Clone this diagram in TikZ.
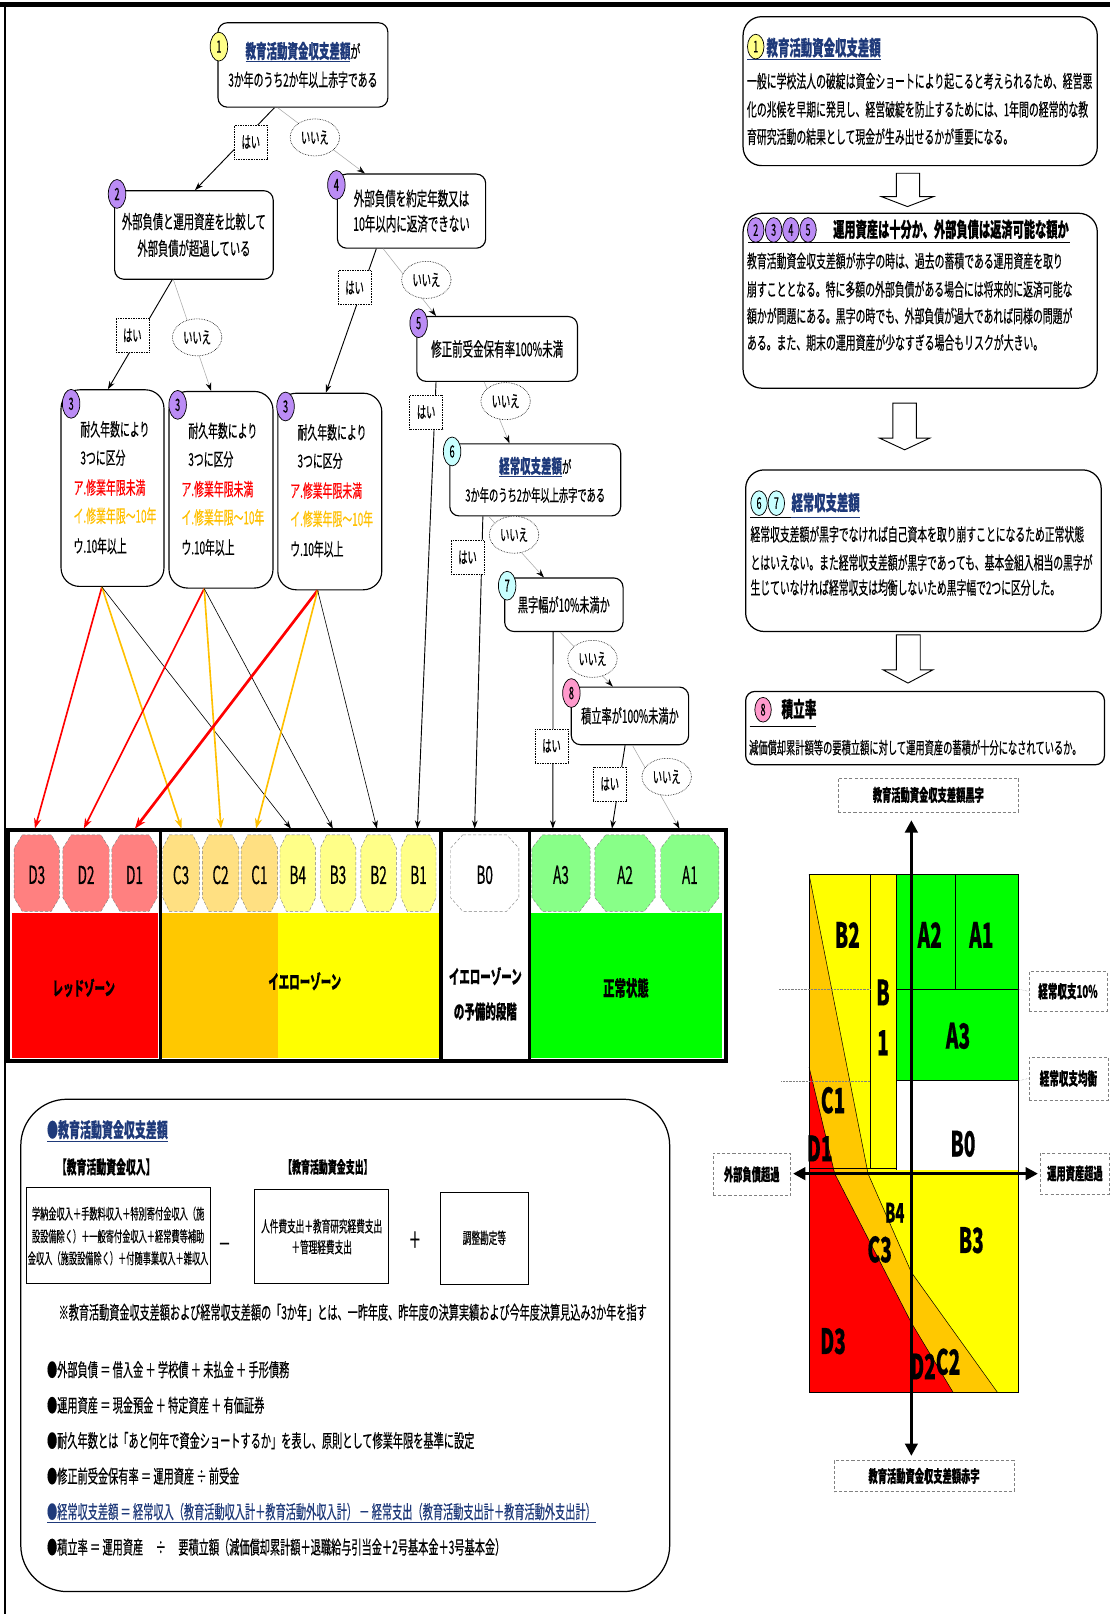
\documentclass[tikz,border=0pt]{standalone}
\usepackage{fontspec}
\setmainfont[FakeStretch=0.55,FakeBold=0.35]{Noto Sans CJK JP}
\usetikzlibrary{arrows.meta,calc,shapes.geometric}
\definecolor{navy}{HTML}{1F3A7A}
\definecolor{bpurple}{HTML}{BB8CF5}
\definecolor{bcyan}{HTML}{C8FFFF}
\definecolor{bpink}{HTML}{FF99CC}
\definecolor{byellow}{HTML}{FFFF88}
\definecolor{zred}{HTML}{FF0000}
\definecolor{zorange}{HTML}{FFC800}
\definecolor{zyellow}{HTML}{FFFF00}
\definecolor{zgreen}{HTML}{00FF00}
\definecolor{oD}{HTML}{FF8080}
\definecolor{oC}{HTML}{FFE082}
\definecolor{oB}{HTML}{FFFF88}
\definecolor{oA}{HTML}{88FF88}
\definecolor{gold}{HTML}{FFC000}
\newcommand{\fsz}[2]{\fontsize{\fpeval{#1*1.09}}{#2}\selectfont}
\newcommand{\txtl}[5]{\node[anchor=base west,inner sep=0pt,font=\fsz{#4}{#4}] (#1) at (#2,{#3+0.38*#4}) {#5};}
\newcommand{\txtc}[5]{\node[anchor=base,inner sep=0pt,font=\fsz{#4}{#4}] (#1) at (#2,{#3+0.38*#4}) {#5};}
\newcommand{\octo}[5]{%
  \path[draw=gray,densely dashed,line width=0.4pt,fill=#3]
   ({#1-#2/2+0.18*#2},811) -- ({#1+#2/2-0.18*#2},811) -- ({#1+#2/2},824) -- ({#1+#2/2},872)
   -- ({#1+#2/2-0.18*#2},885.4) -- ({#1-#2/2+0.18*#2},885.4) -- ({#1-#2/2},872) -- ({#1-#2/2},824) -- cycle;
  \node[font=\fsz{22}{22},inner sep=0pt] (#5) at (#1,850) {#4};}
\newcommand{\threetxt}[4]{%
  \txtl{#1l1}{#2}{417.6+#4}{16}{耐久年数により}
  \txtl{#1l2}{#2}{445.1+#4}{16}{3つに区分}
  \txtl{#1l3}{#3}{474.2+#4}{16}{\textcolor{zred}{ア.修業年限未満}}
  \txtl{#1l4}{#3}{501.7+#4}{16}{\textcolor{gold}{イ.修業年限～10年}}
  \txtl{#1l5}{#3}{530.9+#4}{16}{ウ.10年以上}}
\begin{document}
\begin{tikzpicture}[x=1pt,y=-1pt,
  fbx/.style={draw,line width=1.1pt,rounded corners=9pt,fill=white,align=center,inner sep=0pt},
  badge/.style={ellipse,draw,line width=0.7pt,minimum width=17pt,minimum height=28pt,inner sep=0pt,font=\fsz{15}{15}},
  rbadge/.style={ellipse,draw,line width=0.7pt,minimum width=16pt,minimum height=24pt,inner sep=0pt,font=\fsz{14.5}{14.5}},
  yeslbl/.style={draw,densely dotted,line width=0.6pt,fill=white,minimum width=32pt,minimum height=33pt,inner sep=0pt,font=\fsz{15}{15}},
  nolbl/.style={ellipse,draw,densely dotted,line width=0.6pt,fill=white,minimum width=48pt,minimum height=36pt,inner sep=0pt,font=\fsz{15}{15}},
  yesline/.style={line width=0.9pt,-{Stealth[length=8pt,width=5.5pt]}},
  noline/.style={line width=0.5pt,draw=gray!70,-{Stealth[length=8pt,width=5.5pt,color=black,fill=black]}},
  chartlbl/.style={draw=gray,densely dashed,line width=0.5pt,fill=white,inner sep=0pt,font=\fsz{15}{15}\bfseries},
  bigl/.style={font=\fsz{31}{31}\bfseries,inner sep=0pt},
  zlbl/.style={font=\fsz{17}{34}\bfseries,inner sep=0pt,align=center},
  block/.style={draw,line width=0.9pt,fill=white},
]
\useasboundingbox (0,0) rectangle (1078,1568);
\fill[white] (0,0) rectangle (1078,1568);
% frame
\draw[line width=5pt] (0,4) -- (1078,4);
\draw[line width=1.3pt] (5,4) -- (5,1568);

% ---------------- flowchart boxes
\node[fbx,minimum width=165pt,minimum height=82pt,font=\fsz{16}{27.5}] (n1) at (294.3,63.1)
  {{\fsz{17}{27.5}\bfseries\textcolor{navy}{\underline{教育活動資金収支差額}}}が\\3か年のうち2か年以上赤字である};
\node[fbx,minimum width=154pt,minimum height=86pt,font=\fsz{16.7}{26}] (n2) at (188.4,228.3)
  {外部負債と運用資産を比較して\\外部負債が超過している};
\node[fbx,minimum width=144pt,minimum height=72pt,font=\fsz{17}{24.5}] (n4) at (399.8,205.1)
  {外部負債を約定年数又は\\10年以内に返済できない};
\node[fbx,minimum width=156pt,minimum height=63pt,font=\fsz{17}{17}] (n5) at (483,339)
  {修正前受金保有率100\%未満};
\node[fbx,rounded corners=18pt,minimum width=100pt,minimum height=191pt] (n3a) at (109.3,474.2) {};
\node[fbx,rounded corners=18pt,minimum width=101pt,minimum height=191pt] (n3b) at (214.7,475.8) {};
\node[fbx,rounded corners=18pt,minimum width=101pt,minimum height=191pt] (n3c) at (320.4,477.5) {};
\node[fbx,minimum width=166pt,minimum height=70pt,font=\fsz{15}{27.5}] (n6) at (520,466.2)
  {{\fsz{17}{27.5}\bfseries\textcolor{navy}{\underline{経常収支差額}}}が\\3か年のうち2か年以上赤字である};
\node[fbx,minimum width=115pt,minimum height=52pt,font=\fsz{16.5}{16.5}] (n7) at (547.8,587.5)
  {黒字幅が10\%未満か};
\node[fbx,minimum width=114pt,minimum height=56pt,font=\fsz{16.5}{16.5}] (n8) at (612,695.5)
  {積立率が100\%未満か};

\threetxt{n3a}{78}{71.3}{0}
\threetxt{n3b}{182.8}{176.1}{1.5}
\threetxt{n3c}{288.9}{281.8}{3}

% badges
\node[badge,fill=byellow] (b1) at (212.7,45.3) {1};
\node[badge,fill=bpurple] (b2) at (113.7,188.4) {2};
\node[badge,fill=bpurple] (b4) at (326.8,179.7) {4};
\node[badge,fill=bpurple] (b5) at (406.7,314) {5};
\node[badge,fill=bpurple] (b3a) at (69.1,392.3) {3};
\node[badge,fill=bpurple] (b3b) at (172.6,393.3) {3};
\node[badge,fill=bpurple] (b3c) at (277.4,394.9) {3};
\node[badge,fill=bcyan] (b6) at (439.2,438.6) {6};
\node[badge,fill=bcyan] (b7) at (492.7,569) {7};
\node[badge,fill=bpink] (b8) at (555.1,673.3) {8};

% ---------------- zone bar
\fill[zred] (11.3,887) rectangle (153.7,1028);
\fill[zorange] (157.3,887) rectangle (269.9,1028);
\fill[zyellow] (269.9,887) rectangle (427.2,1028);
\fill[zgreen] (516.3,887) rectangle (701.6,1028);
\octo{35.7}{44}{oD}{D3}{oD3}
\octo{83.6}{45}{oD}{D2}{oD2}
\octo{130.7}{44}{oD}{D1}{oD1}
\octo{175.9}{35.5}{oC}{C3}{oC3}
\octo{214.3}{35.5}{oC}{C2}{oC2}
\octo{252}{35.5}{oC}{C1}{oC1}
\octo{289.3}{34.5}{oB}{B4}{oB4}
\octo{328.4}{34.5}{oB}{B3}{oB3}
\octo{367.8}{34.5}{oB}{B2}{oB2}
\octo{406.6}{34}{oB}{B1}{oB1}
\octo{470.9}{66.5}{white}{B0}{oB0}
\octo{545}{56.5}{oA}{A3}{oA3}
\octo{607.2}{58.5}{oA}{A2}{oA2}
\octo{670.2}{56.5}{oA}{A1}{oA1}
\draw[line width=4pt] (8.1,806) rectangle (705.3,1031);
\draw[line width=3.5pt] (156,806) -- (156,1031);
\draw[line width=3.5pt] (428.6,806) -- (428.6,1031);
\draw[line width=3.5pt] (514.5,806) -- (514.5,1031);
\node[zlbl] (zl1) at (81.4,959.8) {レッドゾーン};
\node[zlbl] (zl2) at (296.1,953.3) {イエローゾーン};
\node[zlbl] (zl3) at (471.5,965.5) {イエローゾーン\\の予備的段階};
\node[zlbl,font=\fsz{18.5}{18.5}\bfseries] (zl4) at (608.1,959.8) {正常状態};

\coordinate (tD3) at (33.9,805);
\coordinate (tD2) at (81.4,805);
\coordinate (tD1) at (131.1,805);
\coordinate (tC3) at (176.3,805);
\coordinate (tC2) at (214.7,805);
\coordinate (tC1) at (248.7,805);
\coordinate (tB4) at (282.6,805);
\coordinate (tB3) at (323.3,805);
\coordinate (tB2) at (366.2,805);
\coordinate (tB1) at (405.5,805);
\coordinate (tB0) at (461.1,805);
\coordinate (tA3) at (537.1,805);
\coordinate (tA2) at (594.5,805);
\coordinate (tA1) at (660.1,805);

% ---------------- flowchart edges
\draw[yesline] ([xshift=-27.7pt]n1.south) -- ([xshift=1pt]n2.north);
\draw[noline] ([xshift=-24.5pt]n1.south) -- ([xshift=-45.3pt]n4.north);
\draw[yesline] ([xshift=-21.2pt]n2.south) -- ([xshift=-4.5pt]n3a.north);
\draw[noline] ([xshift=-19.9pt]n2.south) -- ([xshift=-9.6pt]n3b.north);
\draw[yesline] ([xshift=-34.2pt]n4.south) -- ([xshift=-3.8pt]n3c.north);
\draw[noline] ([xshift=-27.5pt]n4.south) -- ([xshift=-59.4pt]n5.north);
\draw[yesline] ([xshift=-59.4pt]n5.south) -- (tB1);
\draw[noline] ([xshift=-12.6pt]n5.south) -- ([xshift=-25.1pt]n6.north);
\draw[yesline] ([xshift=-50.9pt]n6.south) -- (tB0);
\draw[noline] ([xshift=-45.1pt]n6.south) -- ([xshift=-19.4pt]n7.north);
\draw[yesline] ([xshift=-10.5pt]n7.south) -- (tA3);
\draw[noline] ([xshift=-3.8pt]n7.south) -- ([xshift=-16.7pt]n8.north);
\draw[yesline] ([xshift=-4.7pt]n8.south) -- (tA2);
\draw[noline] ([xshift=2.4pt]n8.south) -- (tA1);

\draw[zred,line width=1.6pt,-{Stealth[length=10pt,width=7pt]}] ([xshift=-10.3pt]n3a.south) -- (tD3);
\draw[gold,line width=1.6pt,-{Stealth[length=10pt,width=7pt]}] ([xshift=-10.3pt]n3a.south) -- (tC3);
\draw[line width=0.6pt,-{Stealth[length=8pt,width=5.5pt]}] ([xshift=-10.3pt]n3a.south) -- (tB4);
\draw[zred,line width=1.6pt,-{Stealth[length=10pt,width=7pt]}] ([xshift=-16.3pt]n3b.south) -- (tD2);
\draw[gold,line width=1.6pt,-{Stealth[length=10pt,width=7pt]}] ([xshift=-16.3pt]n3b.south) -- (tC2);
\draw[line width=0.6pt,-{Stealth[length=8pt,width=5.5pt]}] ([xshift=-16.3pt]n3b.south) -- (tB3);
\draw[zred,line width=2.6pt,-{Stealth[length=11pt,width=8pt]}] ([xshift=-11.8pt]n3c.south) -- (tD1);
\draw[gold,line width=1.6pt,-{Stealth[length=10pt,width=7pt]}] ([xshift=-11.8pt]n3c.south) -- (tC1);
\draw[line width=0.6pt,-{Stealth[length=8pt,width=5.5pt]}] ([xshift=-11.8pt]n3c.south) -- (tB2);

% labels on edges
\node[yeslbl] (y1) at (243.7,138) {はい};
\node[nolbl] (x1) at (305.9,133.5) {いいえ};
\node[yeslbl] (y2) at (128.6,325.8) {はい};
\node[nolbl] (x2) at (191.5,327.7) {いいえ};
\node[yeslbl] (y4) at (344.5,279.5) {はい};
\node[nolbl] (x4) at (414.2,271.9) {いいえ};
\node[yeslbl] (y5) at (414,400.3) {はい};
\node[nolbl] (x5) at (491.2,389.7) {いいえ};
\node[yeslbl] (y6) at (454.2,541.4) {はい};
\node[nolbl] (x6) at (499.4,519.5) {いいえ};
\node[yeslbl] (y7) at (535.8,724.6) {はい};
\node[nolbl] (x7) at (575.6,640.1) {いいえ};
\node[yeslbl] (y8) at (592.4,761.5) {はい};
\node[nolbl] (x8) at (647.7,754.7) {いいえ};

% ---------------- right text boxes
\draw[line width=1.2pt,rounded corners=18pt] (721.9,16.2) rectangle (1066,160.9);
\draw[navy,line width=1pt] (726,57.5) -- (856.2,57.5);
\node[rbadge,fill=byellow] (rb1) at (734.2,45.3) {1};
\txtl{r1t}{744.5}{46.9}{18.5}{\bfseries\textcolor{navy}{教育活動資金収支差額}}
\txtl{r1a}{725.5}{79.3}{16}{一般に学校法人の破綻は資金ショートにより起こると考えられるため、経営悪}
\txtl{r1b}{725.5}{106.8}{16}{化の兆候を早期に発見し、経営破綻を防止するためには、1年間の経常的な教}
\txtl{r1c}{725.5}{133.4}{16}{育研究活動の結果として現金が生み出せるかが重要になる。}

\draw[block] (870.8,168.3) -- (893.4,168.3) -- (893.4,191) -- (907,191) -- (881.6,200.7) -- (856.2,191) -- (870.8,191) -- cycle;

\draw[line width=1.2pt,rounded corners=18pt] (721.9,207.2) rectangle (1066,377.1);
\draw[line width=1pt] (726.7,236) -- (1039.1,236);
\node[rbadge,fill=bpurple] (rb2) at (734.2,223.4) {2};
\node[rbadge,fill=bpurple] (rb3) at (751.6,223.4) {3};
\node[rbadge,fill=bpurple] (rb4) at (768.3,223.4) {4};
\node[rbadge,fill=bpurple] (rb5) at (785,223.4) {5};
\txtl{r2t}{809.2}{223.4}{18.2}{\bfseries 運用資産は十分か、外部負債は返済可能な額か}
\txtl{r2a}{725.5}{254.1}{16}{教育活動資金収支差額が赤字の時は、過去の蓄積である運用資産を取り}
\txtl{r2b}{725.5}{281.6}{16}{崩すこととなる。特に多額の外部負債がある場合には将来的に返済可能な}
\txtl{r2c}{725.5}{307.5}{16}{額かが問題にある。黒字の時でも、外部負債が過大であれば同様の問題が}
\txtl{r2d}{725.5}{333.4}{16}{ある。また、期末の運用資産が少なすぎる場合もリスクが大きい。}

\draw[block] (867.5,391.7) -- (890.2,391.7) -- (890.2,425.7) -- (903.1,425.7) -- (878.9,437) -- (854.6,425.7) -- (867.5,425.7) -- cycle;

\draw[line width=1.2pt,rounded corners=18pt] (724.4,456.5) rectangle (1069.8,613.5);
\draw[line width=1pt] (729,502.4) -- (768.8,502.4);
\draw[navy,line width=1pt] (768.8,502.4) -- (835.1,502.4);
\node[rbadge,fill=bcyan] (rb6) at (737.4,488.8) {6};
\node[rbadge,fill=bcyan] (rb7) at (754.2,488.8) {7};
\txtl{r3t}{768.8}{488.8}{18.4}{\bfseries\textcolor{navy}{経常収支差額}}
\txtl{r3a}{728.9}{519.6}{15.9}{経常収支差額が黒字でなければ自己資本を取り崩すことになるため正常状態}
\txtl{r3b}{728.9}{547.1}{15.9}{とはいえない。また経常収支差額が黒字であっても、基本金組入相当の黒字が}
\txtl{r3c}{728.9}{571.4}{15.9}{生じていなければ経常収支は均衡しないため黒字幅で2つに区分した。}

\draw[block] (870.8,616.7) -- (894,616.7) -- (894,650.7) -- (906.4,650.7) -- (882.1,663.6) -- (857.8,650.7) -- (870.8,650.7) -- cycle;

\draw[line width=1.2pt,rounded corners=9pt] (724.4,671.7) rectangle (1073,743);
\draw[line width=1pt] (728.3,705.7) -- (793,705.7);
\node[rbadge,fill=bpink] (rb8) at (741.3,689.5) {8};
\txtl{r4t}{759}{689.5}{18.9}{\bfseries 積立率}
\txtl{r4a}{727.5}{726.8}{15}{減価償却累計額等の要積立額に対して運用資産の蓄積が十分になされているか。}

% ---------------- chart
\fill[zyellow] (786,849.5) rectangle (989,1352.5);
\fill[zgreen] (870.8,849.5) rectangle (989,1050.1);
\fill[white] (870.8,1050.1) rectangle (989,1137);
\fill[zorange] (786,849.5) -- (843.3,1140.2) -- (885.4,1236.1) -- (968.9,1352.5) -- (786,1352.5) -- cycle;
\fill[zred] (786,1036.7) -- (810.9,1140.2) -- (885.4,1285.1) -- (925.8,1352.5) -- (786,1352.5) -- cycle;
\draw[line width=0.6pt] (786,849.5) rectangle (989,1352.5);
\draw[line width=0.6pt] (845.5,849.5) -- (845.5,1135);
\draw[line width=0.6pt] (870.8,849.5) -- (870.8,1137);
\draw[line width=0.6pt] (786,1135) -- (870.8,1135);
\draw[line width=0.6pt] (928.4,849.5) -- (928.4,960.9);
\draw[line width=1pt] (870.8,960.9) -- (989,960.9);
\draw[line width=1pt] (870.8,1050.1) -- (989,1050.1);
\draw[line width=0.5pt] (786,849.5) -- (843.3,1140.2) -- (885.4,1236.1) -- (968.9,1352.5);
\draw[line width=0.5pt] (786,1036.7) -- (810.9,1140.2) -- (885.4,1285.1) -- (925.8,1352.5);
\draw[gray,line width=0.4pt,densely dotted] (756.8,960.9) -- (845.5,960.9);
\draw[gray,line width=0.4pt,densely dotted] (759.1,1050.1) -- (845.5,1050.1);

\node[chartlbl,minimum width=175.5pt,minimum height=33pt] (cTop) at (901.9,772.3) {教育活動資金収支差額黒字};
\node[chartlbl,minimum width=175pt,minimum height=30pt] (cBot) at (897.7,1434) {教育活動資金収支差額赤字};
\node[chartlbl,minimum width=75.8pt,minimum height=38pt,font=\fsz{15.5}{15.5}\bfseries] (c10) at (1037.5,963) {経常収支10\%};
\node[chartlbl,minimum width=76.8pt,minimum height=42pt,font=\fsz{15.5}{15.5}\bfseries] (cBal) at (1038,1047.7) {経常収支均衡};
\node[chartlbl,minimum width=75.2pt,minimum height=41.5pt] (cL) at (730.3,1140.9) {外部負債超過};
\node[chartlbl,minimum width=67.4pt,minimum height=40pt] (cR) at (1044.3,1140) {運用資産超過};
\draw[gray,line width=0.4pt,densely dotted] (989,960.9) -- (c10.west);
\draw[gray,line width=0.4pt,densely dotted] (989,1050.1) -- (cBal.west);

\draw[line width=3.5pt,{Triangle[length=12pt,width=12pt]}-{Triangle[length=12pt,width=12pt]}] (885.4,796.8) -- (885.4,1414.4);
\draw[line width=3.5pt,{Triangle[length=12pt,width=12pt]}-{Triangle[length=12pt,width=12pt]}] (770.4,1140.2) -- (1008.4,1140.2);

\node[bigl] (cB2) at (823.2,908.3) {B2};
\node[bigl] (cB1a) at (857.8,964.1) {B};
\node[bigl] (cB1b) at (857.8,1013.1) {1};
\node[bigl] (cA2) at (903.2,908.3) {A2};
\node[bigl] (cA1) at (953.3,908.3) {A1};
\node[bigl] (cA3) at (930.7,1006.4) {A3};
\node[bigl] (cC1) at (809.3,1068.9) {C1};
\node[bigl] (cD1) at (796.3,1115.7) {D1};
\node[bigl] (cB0) at (935.5,1111.2) {B0};
\node[bigl,font=\fsz{24}{24}\bfseries] (cB4) at (869.2,1178.1) {B4};
\node[bigl] (cB3) at (943.6,1204.9) {B3};
\node[bigl] (cC3) at (854.6,1213.8) {C3};
\node[bigl] (cD3) at (809.3,1303) {D3};
\node[bigl] (cD2) at (896.7,1327.5) {D2};
\node[bigl] (cC2) at (921,1323) {C2};

% ---------------- bottom-left box
\draw[line width=1.2pt,rounded corners=45pt] (20.2,1067.9) rectangle (650.6,1546.2);
\txtl{bt}{45.5}{1098.1}{17.8}{\bfseries\textcolor{navy}{\underline{●教育活動資金収支差額}}}
\txtc{bin}{103.2}{1134.2}{16}{\bfseries 【教育活動資金収入】}
\txtc{bout}{318.5}{1134.2}{14.5}{\bfseries 【教育活動資金支出】}
\draw[line width=0.8pt] (25.3,1153.9) rectangle (204.2,1246.8);
\txtc{ba1}{114.75}{1179.5}{13.3}{学納金収入＋手数料収入＋特別寄付金収入（施}
\txtc{ba2}{114.75}{1201.5}{13.3}{設設備除く）＋一般寄付金収入＋経常費等補助}
\txtc{ba3}{114.75}{1222.9}{13.3}{金収入（施設設備除く）＋付随事業収入＋雑収入}
\txtc{bminus}{218.1}{1208.7}{20}{－}
\draw[line width=0.8pt] (247.2,1155.5) rectangle (377.7,1246.8);
\txtc{bb1}{312.5}{1191.7}{14}{人件費支出＋教育研究経費支出}
\txtc{bb2}{312.5}{1212}{14}{＋管理経費支出}
\txtc{bplus}{403}{1204.8}{20}{＋}
\draw[line width=0.8pt] (427.4,1158.8) rectangle (513.7,1247.5);
\txtc{bc1}{470.6}{1203}{14}{調整勘定等}
\txtl{bnote}{56.8}{1275.4}{16.4}{※教育活動資金収支差額および経常収支差額の「3か年」とは、一昨年度、昨年度の決算実績および今年度決算見込み3か年を指す}
\txtl{bl1}{45.5}{1331.2}{16.5}{●外部負債 ＝ 借入金 ＋ 学校債 ＋ 未払金 ＋ 手形債務}
\txtl{bl2}{45.5}{1365.7}{16.5}{●運用資産 ＝ 現金預金 ＋ 特定資産 ＋ 有価証券}
\txtl{bl3}{45.5}{1400.1}{16.5}{●耐久年数とは「あと何年で資金ショートするか」を表し、原則として修業年限を基準に設定}
\txtl{bl4}{45.5}{1434.6}{16.5}{●修正前受金保有率 ＝ 運用資産 ÷ 前受金}
\txtl{bl5}{45.5}{1469.1}{16.5}{\textcolor{navy}{\underline{●経常収支差額 ＝ 経常収入（教育活動収入計＋教育活動外収入計） － 経常支出（教育活動支出計＋教育活動外支出計）}}}
\txtl{bl6}{45.5}{1503.5}{16.5}{●積立率 ＝ 運用資産 　÷　 要積立額（減価償却累計額＋退職給与引当金＋2号基本金＋3号基本金）}
\end{tikzpicture}
\end{document}
